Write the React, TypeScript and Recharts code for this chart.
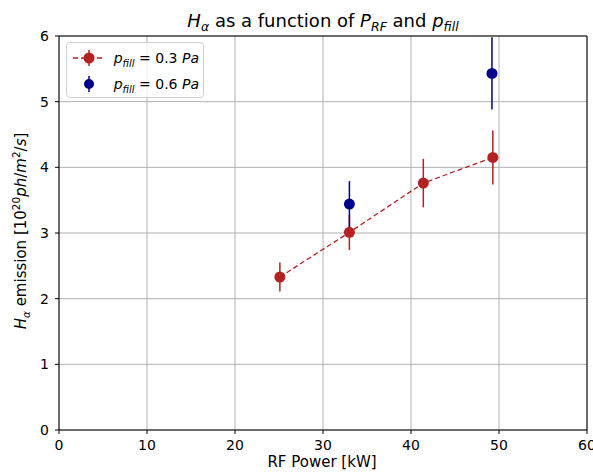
import React from 'react';
import {
  ScatterChart,
  Scatter,
  XAxis,
  YAxis,
  CartesianGrid,
  ErrorBar,
  ReferenceLine,
} from 'recharts';

// p_fill = 0.3 Pa
const powerLow = [25.1, 33.0, 41.4, 49.3];
const emissionLow = [2.33, 3.01, 3.76, 4.15];
const errLow = [0.22, 0.27, 0.37, 0.41];

// p_fill = 0.6 Pa
const powerHigh = [33.0, 49.2];
const emissionHigh = [3.44, 5.43];
const errHigh = [0.35, 0.55];

const xTicks = [0, 10, 20, 30, 40, 50, 60];
const yTicks = [0, 1, 2, 3, 4, 5, 6];

const RED = '#b22222';
const BLUE = '#00008b';
const FONT = '"DejaVu Sans", sans-serif';

const lowData = powerLow.map((x, i) => ({ x, y: emissionLow[i], err: errLow[i] }));
const highData = powerHigh.map((x, i) => ({ x, y: emissionHigh[i], err: errHigh[i] }));

const Dot = (props: any) => {
  const { cx, cy, fill } = props;
  if (cx == null || cy == null) return null;
  return <circle cx={cx} cy={cy} r={5.5} fill={fill} />;
};

const LegendLabel = ({ value }: { value: string }) => (
  <span style={{ fontFamily: FONT, fontSize: 14, color: '#000', whiteSpace: 'nowrap' }}>
    <i>p</i>
    <i style={{ fontSize: 10, position: 'relative', top: 4 }}>fill</i>
    {' '}= {value} <i>Pa</i>
  </span>
);

const LegendBox = () => (
  <div
    style={{
      position: 'absolute',
      left: 66,
      top: 42,
      width: 138,
      height: 56,
      boxSizing: 'border-box',
      border: '1px solid #d0d0d0',
      borderRadius: 4,
      background: 'rgba(255,255,255,0.8)',
      padding: '2px 4px',
    }}
  >
    <div style={{ display: 'flex', alignItems: 'center', height: 26 }}>
      <svg width={36} height={20}>
        <line x1={2} y1={10} x2={34} y2={10} stroke={RED} strokeWidth={1.3} strokeDasharray="5 3" />
        <line x1={18} y1={2} x2={18} y2={18} stroke={RED} strokeWidth={1.5} />
        <circle cx={18} cy={10} r={5.5} fill={RED} />
      </svg>
      <span style={{ marginLeft: 10 }}>
        <LegendLabel value="0.3" />
      </span>
    </div>
    <div style={{ display: 'flex', alignItems: 'center', height: 25 }}>
      <svg width={36} height={20}>
        <line x1={18} y1={2} x2={18} y2={18} stroke={BLUE} strokeWidth={1.5} />
        <circle cx={18} cy={10} r={5} fill={BLUE} />
      </svg>
      <span style={{ marginLeft: 10 }}>
        <LegendLabel value="0.6" />
      </span>
    </div>
  </div>
);

export default function App() {
  return (
    <div style={{ position: 'absolute', left: 0, top: 0, width: 593, height: 476, background: '#fff' }}>
      <ScatterChart width={593} height={476} margin={{ top: 36, right: 6, bottom: 0, left: 0 }}>
        <CartesianGrid stroke="#b0b0b0" strokeWidth={1} />
        <XAxis
          type="number"
          dataKey="x"
          domain={[0, 60]}
          ticks={xTicks}
          height={46}
          tick={{ fill: '#000', fontSize: 14, fontFamily: FONT }}
          tickLine={{ stroke: '#000' }}
          axisLine={{ stroke: '#000' }}
          tickSize={4}
          tickMargin={6}
          interval={0}
        />
        <YAxis
          type="number"
          dataKey="y"
          domain={[0, 6]}
          ticks={yTicks}
          width={59}
          tick={{ fill: '#000', fontSize: 14, fontFamily: FONT }}
          tickLine={{ stroke: '#000' }}
          axisLine={{ stroke: '#000' }}
          tickSize={4}
          tickMargin={6}
          interval={0}
        />
        <ReferenceLine y={6} stroke="#000" strokeWidth={1} />
        <ReferenceLine x={60} stroke="#000" strokeWidth={1} />
        <Scatter
          data={lowData}
          fill={RED}
          line={{ stroke: RED, strokeWidth: 1.3, strokeDasharray: '5 3' }}
          shape={<Dot />}
          isAnimationActive={false}
        >
          <ErrorBar dataKey="err" direction="y" width={0} stroke={RED} strokeWidth={1.5} />
        </Scatter>
        <Scatter data={highData} fill={BLUE} shape={<Dot />} isAnimationActive={false}>
          <ErrorBar dataKey="err" direction="y" width={0} stroke={BLUE} strokeWidth={1.5} />
        </Scatter>
      </ScatterChart>
      <LegendBox />
      <svg
        width={593}
        height={476}
        style={{ position: 'absolute', left: 0, top: 0, pointerEvents: 'none' }}
        fontFamily={FONT}
      >
        <text x={323} y={27} textAnchor="middle" fontSize={18} fill="#000">
          <tspan fontStyle="italic">H</tspan>
          <tspan fontStyle="italic" fontSize={12.5} dy={4}>α</tspan>
          <tspan dy={-4}> as a function of </tspan>
          <tspan fontStyle="italic">P</tspan>
          <tspan fontStyle="italic" fontSize={12.5} dy={4}>RF</tspan>
          <tspan dy={-4}> and </tspan>
          <tspan fontStyle="italic">p</tspan>
          <tspan fontStyle="italic" fontSize={12.5} dy={4}>fill</tspan>
        </text>
        <text x={322} y={467} textAnchor="middle" fontSize={15} fill="#000">
          RF Power [kW]
        </text>
        <text
          transform="translate(26,231) rotate(-90)"
          textAnchor="middle"
          fontSize={15}
          fill="#000"
        >
          <tspan fontStyle="italic">H</tspan>
          <tspan fontStyle="italic" fontSize={10.5} dy={3.5}>α</tspan>
          <tspan dy={-3.5}> emission [10</tspan>
          <tspan fontSize={10.5} dy={-6.5}>20</tspan>
          <tspan fontStyle="italic" dy={6.5}>ph</tspan>
          <tspan>/</tspan>
          <tspan fontStyle="italic">m</tspan>
          <tspan fontSize={10.5} dy={-6.5}>2</tspan>
          <tspan dy={6.5}>/</tspan>
          <tspan fontStyle="italic">s</tspan>
          <tspan>]</tspan>
        </text>
      </svg>
    </div>
  );
}
